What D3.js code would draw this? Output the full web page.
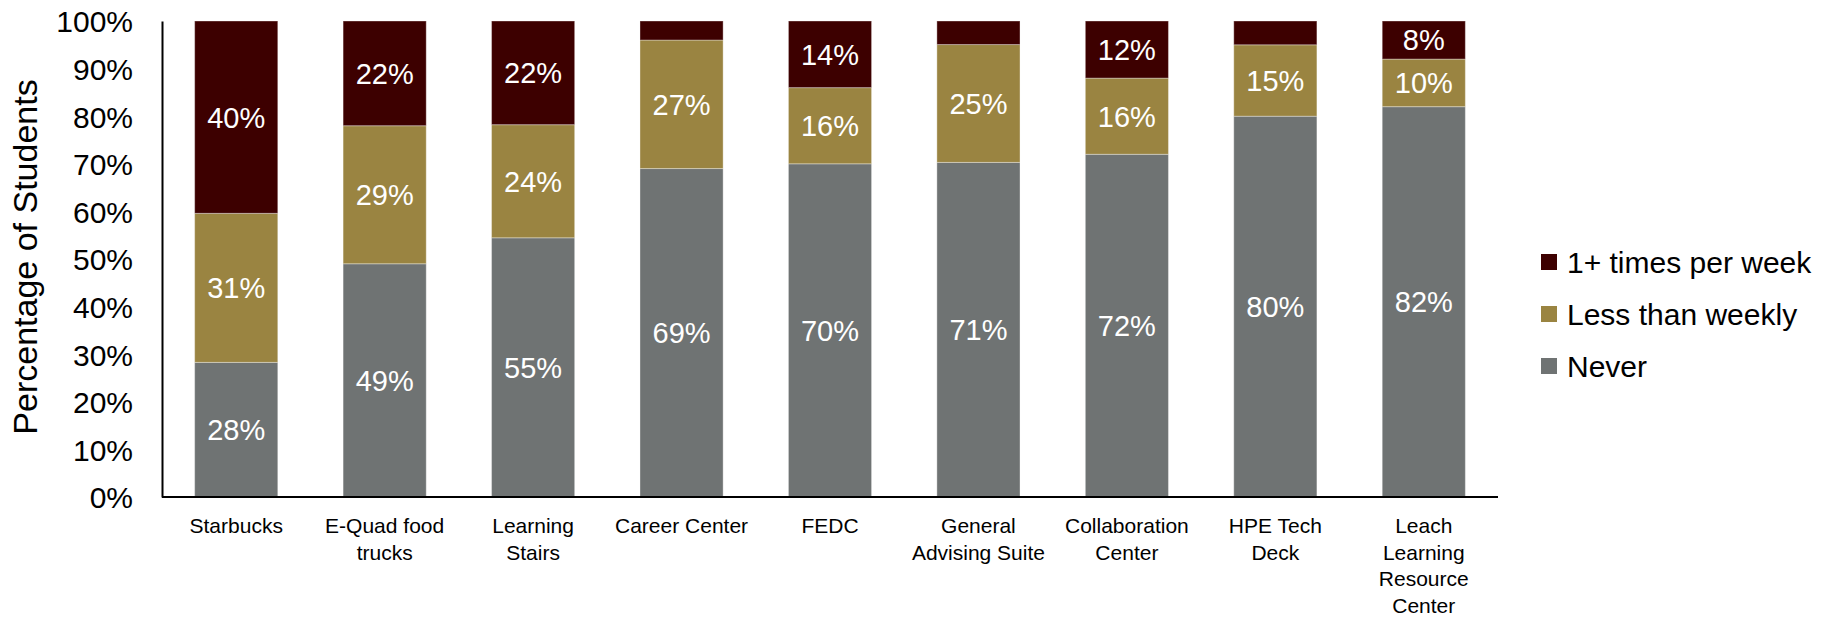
<!DOCTYPE html>
<html>
<head>
<meta charset="utf-8">
<script src="https://cdn.jsdelivr.net/npm/d3@7"></script>
<style>
  html, body { margin: 0; padding: 0; background: #fff; }
  svg { display: block; font-family: "Liberation Sans", Arial, sans-serif; }
</style>
</head>
<body>
<svg id="chart" width="1831" height="617"></svg>
<script>
// Locations (line breaks mark where the axis label wraps)
const categories = [
  "Starbucks",
  "E-Quad food\ntrucks",
  "Learning\nStairs",
  "Career Center",
  "FEDC",
  "General\nAdvising Suite",
  "Collaboration\nCenter",
  "HPE Tech\nDeck",
  "Leach\nLearning\nResource\nCenter"
];

// Share of students (%) per visit frequency
const never          = [28, 49, 55, 69, 70, 71, 72, 80, 82];
const lessThanWeekly = [31, 29, 24, 27, 16, 25, 16, 15, 10];
const weeklyOrMore   = [40, 22, 22,  4, 14,  5, 12,  5,  8];

const seriesNames = ["Never", "Less than weekly", "1+ times per week"];
const seriesColors = ["#6f7373", "#9a8441", "#3d0000"];
const yTicks = [0, 0.1, 0.2, 0.3, 0.4, 0.5, 0.6, 0.7, 0.8, 0.9, 1.0];

const rows = categories.map((c, i) => ({
  category: c,
  "Never": never[i],
  "Less than weekly": lessThanWeekly[i],
  "1+ times per week": weeklyOrMore[i]
}));

const svg = d3.select("#chart");
const plot = { left: 162, right: 1498, top: 21, bottom: 497 };

const x = d3.scaleBand()
  .domain(categories)
  .range([plot.left, plot.right])
  .paddingInner(0.44)
  .paddingOuter(0.22);

const y = d3.scaleLinear()
  .domain([0, 1])
  .range([plot.bottom, plot.top]);

const color = d3.scaleOrdinal().domain(seriesNames).range(seriesColors);

// Each column is normalised to 100%
const stacked = d3.stack()
  .keys(seriesNames)
  .offset(d3.stackOffsetExpand)(rows);

const layers = svg.append("g")
  .selectAll("g")
  .data(stacked)
  .join("g")
  .attr("fill", d => color(d.key));

layers.selectAll("rect")
  .data(d => d)
  .join("rect")
  .attr("x", d => x(d.data.category))
  .attr("width", x.bandwidth())
  .attr("y", d => y(d[1]))
  .attr("height", d => y(d[0]) - y(d[1]))
  .attr("stroke", "#ffffff")
  .attr("stroke-opacity", 0.35)
  .attr("stroke-width", 1);

// Percentage labels inside segments large enough to hold them
layers.each(function(layer) {
  d3.select(this).selectAll("text")
    .data(layer.filter(d => d.data[layer.key] >= 6))
    .join("text")
    .attr("x", d => x(d.data.category) + x.bandwidth() / 2)
    .attr("y", d => (y(d[0]) + y(d[1])) / 2)
    .attr("dy", "0.36em")
    .attr("text-anchor", "middle")
    .attr("fill", "#ffffff")
    .attr("font-size", 29)
    .text(d => d.data[layer.key] + "%");
});

// Y axis
const yAxis = svg.append("g")
  .attr("transform", `translate(${plot.left},0)`)
  .call(d3.axisLeft(y).tickValues(yTicks).tickFormat(d3.format(".0%")).tickSize(0).tickPadding(29));
yAxis.select(".domain").attr("stroke", "#000").attr("stroke-width", 2);
yAxis.selectAll("text")
  .attr("font-family", "Liberation Sans, Arial, sans-serif")
  .attr("font-size", 30)
  .attr("fill", "#000")
  .attr("dy", "0.36em");

// X axis
const xAxis = svg.append("g")
  .attr("transform", `translate(0,${plot.bottom})`)
  .call(d3.axisBottom(x).tickSize(0).tickFormat(""));
xAxis.select(".domain")
  .attr("stroke", "#000")
  .attr("stroke-width", 2)
  .attr("d", `M${plot.left},0H${plot.right}`);

const xLabels = svg.append("g")
  .selectAll("text")
  .data(categories)
  .join("text")
  .attr("x", d => x(d) + x.bandwidth() / 2)
  .attr("y", 533)
  .attr("text-anchor", "middle")
  .attr("font-size", 21)
  .attr("fill", "#000");
xLabels.each(function(d) {
  const t = d3.select(this);
  d.split("\n").forEach((line, i) => {
    t.append("tspan")
      .attr("x", x(d) + x.bandwidth() / 2)
      .attr("dy", i === 0 ? 0 : 26.5)
      .text(line);
  });
});

// Y axis title
svg.append("text")
  .attr("transform", "translate(37,257) rotate(-90)")
  .attr("text-anchor", "middle")
  .attr("font-size", 34)
  .attr("fill", "#000")
  .text("Percentage of Students");

// Legend, top series first
const legend = svg.append("g")
  .selectAll("g")
  .data(seriesNames.slice().reverse())
  .join("g")
  .attr("transform", (d, i) => `translate(1541,${262 + i * 52})`);
legend.append("rect")
  .attr("x", 0)
  .attr("y", -8)
  .attr("width", 16)
  .attr("height", 16)
  .attr("fill", d => color(d));
legend.append("text")
  .attr("x", 26)
  .attr("y", 0)
  .attr("dy", "0.36em")
  .attr("font-size", 30)
  .attr("fill", "#000")
  .text(d => d);
</script>
</body>
</html>
